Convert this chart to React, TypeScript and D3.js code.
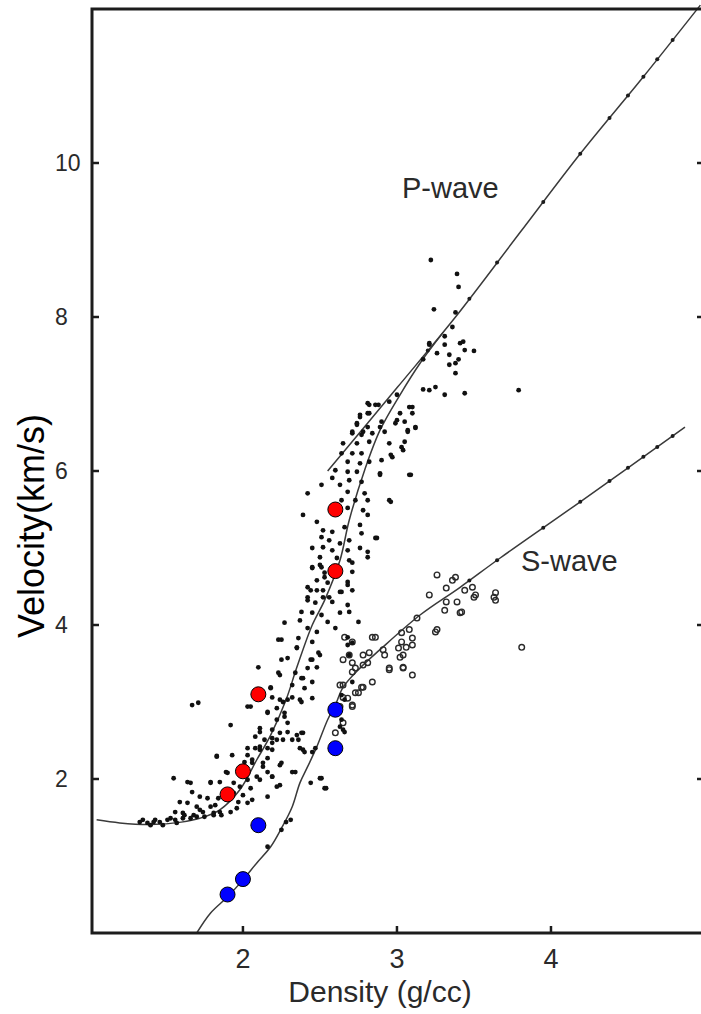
import React from "react";
import * as d3 from "d3";

// ---- axes ----
const xDomain: [number, number] = [1.02, 5];
const yDomain: [number, number] = [0, 12];
const xTicks = [2, 3, 4];
const yTicks = [2, 4, 6, 8, 10];

// ---- fitted curves (density g/cc, velocity km/s) ----
const pWaveLine: [number, number][] = [
  [2.55, 6.0], [3.0, 7.08], [3.38, 8.0], [3.8, 9.1], [4.19, 10.12], [4.6, 11.12], [4.97, 12.05],
];
const pWaveCurve: [number, number][] = [
  [1.05, 1.47], [1.2, 1.43], [1.4, 1.41], [1.6, 1.44], [1.72, 1.49], [1.85, 1.6], [1.98, 1.86],
  [2.09, 2.25], [2.18, 2.57], [2.28, 3.03], [2.35, 3.45], [2.45, 4.0], [2.53, 4.32],
  [2.63, 4.84], [2.69, 5.36], [2.79, 6.01], [2.89, 6.53], [3.02, 6.99], [3.15, 7.4], [3.3, 7.8],
];
const sWaveCurve: [number, number][] = [
  [1.7, 0.0], [1.79, 0.26], [1.9, 0.47], [2.0, 0.69], [2.09, 0.91], [2.18, 1.12], [2.25, 1.36],
  [2.32, 1.64], [2.37, 1.95], [2.42, 2.16], [2.48, 2.42], [2.55, 2.77], [2.6, 2.96], [2.65, 3.19],
  [2.76, 3.44], [2.89, 3.68], [3.15, 4.13], [3.41, 4.49], [3.67, 4.87], [4.19, 5.6], [4.87, 6.57],
];
const curveMarkDensities = [3.2, 3.47, 3.65, 3.95, 4.19, 4.38, 4.5, 4.6, 4.69, 4.79];

// ---- measured P-wave samples (filled dots) ----
const pScatter: [number, number][] = [
  [3.22, 8.74], [3.39, 8.56], [3.4, 8.39], [3.24, 8.1], [3.38, 8.06], [3.36, 7.87], [3.31, 7.75],
  [3.43, 7.68], [3.31, 7.64], [3.44, 7.57], [3.5, 7.56], [3.26, 7.53], [3.34, 7.51], [3.4, 7.45],
  [3.34, 7.38], [3.38, 7.27], [3.17, 7.06], [3.25, 7.09], [3.31, 6.99], [3.44, 7.01], [3.21, 7.64],
  [3.17, 7.45], [3.0, 6.99], [2.82, 6.86], [2.86, 6.86], [3.08, 6.83], [3.1, 6.75], [2.76, 6.73],
  [2.81, 6.75], [3.02, 6.75], [3.05, 6.64], [2.9, 6.64], [2.74, 6.62], [3.07, 6.53], [2.99, 6.62],
  [2.71, 6.51], [2.78, 6.51], [2.92, 6.51], [3.12, 6.56], [3.79, 7.05], [3.21, 7.66], [3.41, 7.66],
  [3.38, 7.4], [3.21, 7.05], [2.81, 6.88], [2.88, 6.86], [3.03, 6.31], [3.09, 5.95], [2.96, 5.6],
  [2.89, 5.95], [2.86, 5.13], [2.97, 6.18], [2.95, 6.9], [3.1, 6.83], [2.76, 6.7], [2.82, 6.75],
  [3.0, 6.66], [3.12, 6.57], [2.74, 6.6], [2.81, 6.57], [2.89, 6.57], [2.71, 6.49], [2.77, 6.47],
  [2.84, 6.49], [3.07, 6.51], [2.95, 6.36], [3.05, 6.38], [2.65, 6.36], [2.74, 6.36], [2.82, 6.38],
  [3.04, 6.27], [2.64, 6.23], [2.71, 6.23], [2.77, 6.23], [2.9, 6.14], [2.96, 6.21], [2.68, 6.12],
  [2.76, 6.1], [2.82, 6.12], [2.6, 6.01], [2.68, 5.99], [2.74, 5.99], [2.89, 5.97], [3.08, 5.95],
  [2.58, 5.91], [2.69, 5.88], [2.77, 5.86], [2.51, 5.82], [2.63, 5.82], [2.42, 5.71], [2.68, 5.73],
  [2.79, 5.71], [2.95, 5.62], [2.64, 5.62], [2.73, 5.62], [2.81, 5.62], [2.68, 5.52], [2.78, 5.49],
  [2.39, 5.43], [2.48, 5.34], [2.52, 5.23], [2.58, 5.21], [2.66, 5.27], [2.76, 5.3], [2.81, 5.43],
  [2.77, 5.19], [2.51, 5.14], [2.56, 5.1], [2.63, 5.06], [2.69, 5.1], [2.87, 5.13], [2.45, 5.0],
  [2.52, 5.01], [2.58, 4.97], [2.68, 4.97], [2.76, 5.0], [2.81, 4.95], [2.5, 4.88], [2.61, 4.87],
  [2.69, 4.84], [2.81, 4.88], [2.45, 4.74], [2.51, 4.75], [2.71, 4.69], [2.48, 4.58], [2.53, 4.62],
  [2.68, 4.56], [2.44, 4.45], [2.52, 4.45], [2.64, 4.43], [2.71, 4.45], [2.42, 4.36], [2.56, 4.36],
  [2.45, 4.75], [2.5, 4.78], [2.53, 4.68], [2.71, 4.81], [2.42, 4.49], [2.48, 4.45], [2.55, 4.55],
  [2.68, 4.52], [2.63, 4.43], [2.52, 4.36], [2.42, 4.32], [2.47, 4.29], [2.58, 4.3], [2.68, 4.26],
  [2.38, 4.17], [2.45, 4.16], [2.51, 4.13], [2.63, 4.16], [2.69, 4.17], [2.55, 4.04], [2.75, 4.04],
  [2.37, 4.06], [2.27, 4.03], [2.42, 3.96], [2.48, 3.91], [2.6, 3.96], [2.68, 3.84], [2.25, 3.81],
  [2.36, 3.83], [2.45, 3.78], [2.35, 3.7], [2.5, 3.61], [2.45, 3.55], [2.29, 3.57], [2.25, 3.55],
  [2.1, 3.45], [2.24, 3.35], [2.34, 3.38], [2.42, 3.44], [2.48, 3.45], [2.38, 3.31], [2.45, 3.26],
  [2.32, 3.22], [2.4, 3.18], [2.18, 3.19], [2.19, 3.06], [2.26, 3.0], [2.32, 3.06], [2.38, 3.0],
  [2.45, 3.05], [2.03, 2.94], [2.22, 2.92], [2.16, 2.86], [2.27, 2.86], [2.22, 2.77], [2.29, 2.73],
  [2.11, 2.61], [2.19, 2.64], [2.24, 2.6], [2.38, 2.6], [2.14, 2.51], [2.22, 2.51], [2.08, 2.55],
  [2.32, 2.51], [2.03, 2.4], [2.11, 2.42], [2.19, 2.38], [2.39, 2.38], [2.45, 2.35], [2.23, 3.81],
  [2.35, 3.71], [2.44, 3.55], [2.49, 3.64], [2.23, 3.38], [2.39, 3.31], [2.18, 3.18], [2.24, 3.03],
  [2.29, 3.03], [2.37, 3.03], [2.16, 2.87], [2.05, 2.94], [1.67, 2.96], [1.71, 2.99], [2.27, 2.81],
  [1.92, 2.7], [2.11, 2.66], [2.29, 2.61], [2.35, 2.57], [2.39, 2.6], [2.19, 2.53], [2.26, 2.51],
  [2.36, 2.51], [2.08, 2.4], [2.16, 2.4], [2.37, 2.4], [2.4, 2.35], [2.47, 2.4], [1.83, 2.29],
  [1.93, 2.31], [2.03, 2.31], [2.16, 2.27], [2.06, 2.21], [2.13, 2.16], [2.24, 2.18], [2.32, 2.09],
  [2.19, 2.03], [1.9, 2.08], [1.55, 2.01], [1.66, 1.95], [1.79, 1.95], [1.85, 1.96], [2.11, 1.99],
  [2.22, 1.9], [2.44, 1.95], [2.51, 2.01], [2.53, 1.88], [2.64, 2.77], [2.65, 2.64], [2.64, 3.09],
  [2.66, 3.03], [2.71, 3.26], [2.68, 3.74], [2.71, 3.77], [2.69, 3.61], [2.63, 2.68], [2.66, 2.61],
  [2.54, 1.88], [2.5, 2.01], [2.28, 1.44], [2.31, 1.47], [2.16, 1.12], [2.25, 1.34],
  [1.64, 1.96], [1.83, 2.3], [1.89, 2.09], [1.79, 1.96], [1.67, 1.83], [1.72, 1.77], [1.59, 1.7],
  [1.77, 1.75], [1.84, 1.75], [1.64, 1.69], [1.7, 1.64], [1.79, 1.64], [1.56, 1.57], [1.61, 1.56],
  [1.68, 1.53], [1.74, 1.57], [1.81, 1.56], [1.85, 1.57], [1.96, 1.62], [2.03, 1.69], [2.06, 1.73],
  [1.33, 1.44], [1.38, 1.43], [1.42, 1.44], [1.46, 1.44], [1.51, 1.47], [1.56, 1.47], [1.61, 1.49],
  [1.66, 1.49], [1.7, 1.51], [1.75, 1.51], [1.81, 1.53], [1.86, 1.53], [1.92, 1.57], [1.4, 1.4],
  [1.48, 1.4], [1.57, 1.43], [1.35, 1.47], [1.97, 1.7], [1.94, 1.82], [1.98, 1.9], [2.05, 1.88],
  [2.03, 1.99], [2.09, 2.03], [2.16, 2.09], [2.19, 2.03], [2.16, 1.77], [2.24, 1.92], [2.34, 2.09],
  [2.13, 2.21], [2.06, 2.25], [2.25, 2.21], [2.11, 2.38], [2.19, 2.47], [2.01, 2.22], [1.94, 1.95],
  [1.43, 1.47], [1.53, 1.49], [1.62, 1.53], [1.72, 1.6], [1.82, 1.66], [1.9, 1.73], [2.0, 1.79],
];

// ---- measured S-wave samples (open circles) ----
const sScatter: [number, number][] = [
  [3.26, 4.65], [3.36, 4.58], [2.86, 3.84], [2.92, 3.61], [2.69, 3.61], [2.73, 3.44], [2.81, 3.51],
  [2.95, 3.42], [3.04, 3.45], [3.1, 3.35], [3.03, 3.9], [3.06, 3.71], [3.13, 4.09], [3.21, 4.39],
  [3.26, 3.94], [2.65, 3.22], [2.75, 3.12], [2.78, 3.19], [2.68, 3.05], [2.63, 2.94], [2.71, 2.94],
  [2.65, 2.73], [2.6, 2.6], [3.38, 4.62], [3.32, 4.48], [3.44, 4.45], [3.49, 4.49], [3.51, 4.39],
  [3.64, 4.42], [3.64, 4.32], [3.32, 4.3], [3.39, 4.3], [3.31, 4.19], [3.42, 4.17], [3.08, 3.94],
  [3.1, 3.83], [3.03, 3.78], [2.84, 3.84], [2.71, 3.78], [2.66, 3.84], [3.1, 3.74], [3.01, 3.7],
  [2.91, 3.68], [2.82, 3.64], [2.78, 3.61], [3.04, 3.61], [2.65, 3.55], [2.71, 3.51], [2.78, 3.48],
  [3.02, 3.58], [2.95, 3.44], [3.04, 3.44], [2.71, 3.39], [2.84, 3.26], [2.77, 3.19], [2.63, 3.22],
  [2.73, 3.12], [2.65, 3.06], [2.71, 2.96], [3.63, 4.36], [3.25, 3.91], [3.41, 4.16], [3.5, 4.36],
  [3.81, 3.71],
];

// ---- highlighted samples ----
const redPoints: [number, number][] = [[2.6, 5.5], [2.6, 4.7], [2.1, 3.1], [2.0, 2.1], [1.9, 1.8]];
const bluePoints: [number, number][] = [[2.6, 2.9], [2.6, 2.4], [2.1, 1.4], [2.0, 0.7], [1.9, 0.5]];

const W = 701;
const H = 1014;
const FONT = "'Liberation Sans', Arial, Helvetica, sans-serif";

export default function App() {
  const x = d3.scaleLinear().domain(xDomain).range([92, 705]);
  const y = d3.scaleLinear().domain(yDomain).range([933, 9]);
  const [x0, x1] = x.range();
  const [yb, yt] = y.range();

  const line = d3
    .line<[number, number]>()
    .x((d) => x(d[0]))
    .y((d) => y(d[1]))
    .curve(d3.curveCatmullRom.alpha(0.5));

  const onCurve = (curve: [number, number][]) =>
    d3.scaleLinear().domain(curve.map((p) => p[0])).range(curve.map((p) => p[1]));
  const pAt = onCurve(pWaveLine);
  const sAt = onCurve(sWaveCurve);

  const ink = "#1c1c1c";
  const curveInk = "#3a3a3a";

  return (
    <svg
      width={W}
      height={H}
      style={{ position: "absolute", left: 0, top: 0, background: "#fff" }}
    >
      <rect x={0} y={0} width={W} height={H} fill="#fff" />

      {/* curves */}
      <path d={line(pWaveLine) || ""} fill="none" stroke={curveInk} strokeWidth={1.5} />
      <path d={line(pWaveCurve) || ""} fill="none" stroke={curveInk} strokeWidth={1.5} />
      <path d={line(sWaveCurve) || ""} fill="none" stroke={curveInk} strokeWidth={1.5} />
      {curveMarkDensities.map((d, i) => (
        <g key={"m" + i}>
          <circle cx={x(d)} cy={y(pAt(d))} r={2} fill={ink} />
          {d >= 3.4 && <circle cx={x(d)} cy={y(sAt(d))} r={2} fill={ink} />}
        </g>
      ))}

      {/* scatter */}
      {sScatter.map((p, i) => (
        <circle
          key={"s" + i}
          cx={x(p[0])}
          cy={y(p[1])}
          r={2.8}
          fill="none"
          stroke="#2a2a2a"
          strokeWidth={1.4}
        />
      ))}
      {pScatter.map((p, i) => (
        <circle key={"p" + i} cx={x(p[0])} cy={y(p[1])} r={2.4} fill="#111" />
      ))}

      {/* frame */}
      <path
        d={`M${x1},${yt}H${x0}V${yb}H${x1}`}
        fill="none"
        stroke={ink}
        strokeWidth={3}
      />
      {yTicks.map((t) => (
        <g key={"yt" + t}>
          <line x1={x0} x2={x0 + 7} y1={y(t)} y2={y(t)} stroke={ink} strokeWidth={2.5} />
          <line x1={x1 - 8} x2={x1} y1={y(t)} y2={y(t)} stroke={ink} strokeWidth={2.5} />
          <text x={55} y={y(t) + 8} fontFamily={FONT} fontSize={23} fill="#2a2a2a">
            {t}
          </text>
        </g>
      ))}
      {xTicks.map((t) => (
        <g key={"xt" + t}>
          <line x1={x(t)} x2={x(t)} y1={yb} y2={yb - 7} stroke={ink} strokeWidth={2.5} />
          <text
            x={x(t)}
            y={968}
            textAnchor="middle"
            fontFamily={FONT}
            fontSize={27}
            fill="#2a2a2a"
          >
            {t}
          </text>
        </g>
      ))}

      {/* labels */}
      <text x={380} y={1002} textAnchor="middle" fontFamily={FONT} fontSize={30} fill="#2a2a2a">
        Density (g/cc)
      </text>
      <text
        transform={`translate(44,526) rotate(-90)`}
        textAnchor="middle"
        fontFamily={FONT}
        fontSize={36}
        fill="#000"
      >
        Velocity(km/s)
      </text>
      <text x={402} y={198} fontFamily={FONT} fontSize={29} fill="#2a2a2a">
        P-wave
      </text>
      <text x={521} y={571} fontFamily={FONT} fontSize={29} fill="#2a2a2a">
        S-wave
      </text>

      {/* highlighted */}
      {redPoints.map((p, i) => (
        <circle key={"r" + i} cx={x(p[0])} cy={y(p[1])} r={7.5} fill="#ff0000" stroke="#000" strokeWidth={1} />
      ))}
      {bluePoints.map((p, i) => (
        <circle key={"b" + i} cx={x(p[0])} cy={y(p[1])} r={7.5} fill="#0000ff" stroke="#000" strokeWidth={1} />
      ))}
    </svg>
  );
}
